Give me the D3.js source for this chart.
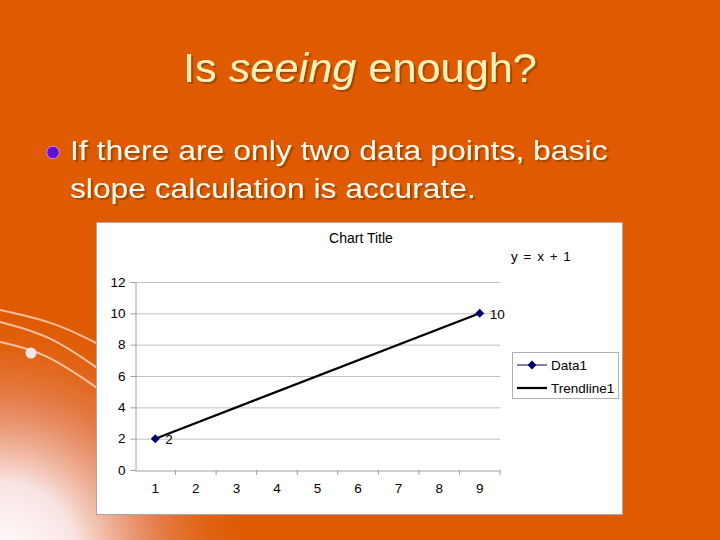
<!DOCTYPE html>
<html><head><meta charset="utf-8">
<script src="https://cdn.jsdelivr.net/npm/d3@7"></script>
<style>html,body{margin:0;padding:0;background:#DF5A00;}svg{display:block;}</style>
</head><body>
<script>
const categories = [1,2,3,4,5,6,7,8,9];
const dataX = [1, 9];
const dataY = [2, 10];
const yTicks = [0,2,4,6,8,10,12];
const trendSlope = 1, trendIntercept = 1;
const chartTitle = "Chart Title";
const equationLabel = "y = x + 1";
const legendLabels = ["Data1", "Trendline1"];

const W = 720, H = 540;
const font = "Liberation Sans, Arial, sans-serif";
const svg = d3.select("body").append("svg").attr("width", W).attr("height", H);
const defs = svg.append("defs");
const rg = defs.append("radialGradient").attr("id","glow")
  .attr("gradientUnits","userSpaceOnUse").attr("cx",0).attr("cy",560).attr("r",260);
rg.append("stop").attr("offset","0").attr("stop-color","#ffffff").attr("stop-opacity",1);
rg.append("stop").attr("offset","0.3").attr("stop-color","#f8e4e2").attr("stop-opacity",1);
rg.append("stop").attr("offset","0.6").attr("stop-color","#e89070").attr("stop-opacity",0.75);
rg.append("stop").attr("offset","1").attr("stop-color","#DF5A00").attr("stop-opacity",0);
const sh = defs.append("filter").attr("id","shadow").attr("x","-5%").attr("y","-20%").attr("width","110%").attr("height","140%");
sh.append("feDropShadow").attr("dx",2).attr("dy",2).attr("stdDeviation",0.3)
  .attr("flood-color","#A24800").attr("flood-opacity",1);

svg.append("rect").attr("width",W).attr("height",H).attr("fill","#DF5A00");
svg.append("rect").attr("x",0).attr("y",280).attr("width",300).attr("height",260).attr("fill","url(#glow)");
// decorative curves
const curves = [[[0,310],[55,322],[100,345]],[[0,322],[50,335],[100,370]],[[0,342],[45,352],[100,390]]];
curves.forEach(c=>{
  svg.append("path").attr("d",d3.line().curve(d3.curveBasis)(c)).attr("fill","none")
    .attr("stroke","#f8d8c8").attr("stroke-width",2).attr("opacity",0.8);
});
svg.append("circle").attr("cx",31).attr("cy",353).attr("r",5.5).attr("fill","#f4e4ec");

// slide texts, stretched horizontally to the widths in the picture
function slideText(x,y,parts,size,fill,targetW){
  const g = svg.append("g");
  const t = g.append("text").attr("x",0).attr("y",0)
    .attr("font-family",font).attr("font-size",size).attr("fill",fill)
    .attr("filter","url(#shadow)");
  parts.forEach(p=>t.append("tspan").attr("font-style",p.i?"italic":"normal").text(p.t));
  const w = t.node().getComputedTextLength();
  g.attr("transform",`translate(${x},${y}) scale(${targetW/w},1)`);
}
slideText(183,82,[{t:"Is "},{t:"seeing",i:true},{t:" enough?"}],41,"#FFF0B8",354);
slideText(70,160,[{t:"If there are only two data points, basic"}],28.5,"#FFF6E6",538);
slideText(70,198,[{t:"slope calculation is accurate."}],28.5,"#FFF6E6",406);
svg.append("circle").attr("cx",53).attr("cy",152.5).attr("r",6.3).attr("fill","#6010D0").attr("stroke","#d090e0").attr("stroke-width",1);

// chart box
svg.append("rect").attr("x",96.5).attr("y",222.5).attr("width",526).attr("height",292).attr("fill","#fff").attr("stroke","#a8a8a8");

const x = d3.scaleBand().domain(categories).range([135,500]);
const y = d3.scaleLinear().domain([0,12]).range([470,282]);

// gridlines
svg.append("g").selectAll("line").data(yTicks.filter(d=>d>0)).join("line")
  .attr("x1",135).attr("x2",500).attr("y1",d=>y(d)+0.5).attr("y2",d=>y(d)+0.5)
  .attr("stroke","#c0c0c0").attr("stroke-width",1);

const yAxis = svg.append("g").attr("transform","translate(135.5,0)")
  .call(d3.axisLeft(y).tickValues(yTicks).tickSize(5).tickPadding(5));
const xAxis = svg.append("g").attr("transform",`translate(0,${y(0)+0.5})`)
  .call(d3.axisBottom(x).tickSize(0).tickPadding(13));
[yAxis,xAxis].forEach(a=>{
  a.select(".domain").attr("stroke","#a0a0a0");
  a.selectAll(".tick line").attr("stroke","#a0a0a0");
  a.selectAll("text").attr("font-family",font).attr("font-size",13.5).attr("fill","#000");
});
// category boundary ticks
svg.append("g").selectAll("line").data(categories).join("line")
  .attr("x1",d=>x(d)+x.bandwidth()).attr("x2",d=>x(d)+x.bandwidth())
  .attr("y1",y(0)).attr("y2",y(0)+5).attr("stroke","#a0a0a0");

const cx = d=>x(d)+x.bandwidth()/2;
const diamond = "M0,-4.5L4.5,0L0,4.5L-4.5,0Z";
// trendline
svg.append("line").attr("x1",cx(dataX[0])).attr("y1",y(trendSlope*dataX[0]+trendIntercept))
  .attr("x2",cx(dataX[1])).attr("y2",y(trendSlope*dataX[1]+trendIntercept))
  .attr("stroke","#000").attr("stroke-width",2.2);
// data markers
const pts = dataX.map((d,i)=>({x:d,y:dataY[i]}));
svg.append("g").selectAll("path").data(pts).join("path")
  .attr("d",diamond)
  .attr("transform",d=>`translate(${cx(d.x)},${y(d.y)})`).attr("fill","#000066");
svg.append("g").selectAll("text").data(pts).join("text")
  .attr("x",d=>cx(d.x)+10).attr("y",d=>y(d.y)+5.5).attr("font-family",font).attr("font-size",13.5).text(d=>d.y);

svg.append("text").attr("x",361).attr("y",243).attr("text-anchor","middle").attr("font-family",font).attr("font-size",14).text(chartTitle);
svg.append("text").attr("x",511).attr("y",261).attr("font-family",font).attr("font-size",13.5).attr("word-spacing",2).text(equationLabel);

// legend
svg.append("rect").attr("x",512.5).attr("y",352.5).attr("width",106).attr("height",46).attr("fill","#fff").attr("stroke","#b0b0b0");
svg.append("line").attr("x1",517).attr("x2",547).attr("y1",365).attr("y2",365).attr("stroke","#000066").attr("stroke-width",1);
svg.append("path").attr("d",diamond).attr("transform","translate(532,365)").attr("fill","#000066");
svg.append("line").attr("x1",517).attr("x2",547).attr("y1",388).attr("y2",388).attr("stroke","#000").attr("stroke-width",2.2);
svg.selectAll(".leg").data(legendLabels).join("text").attr("x",551).attr("y",(d,i)=>370+i*23)
  .attr("font-family",font).attr("font-size",13.5).text(d=>d);
</script>
</body></html>
